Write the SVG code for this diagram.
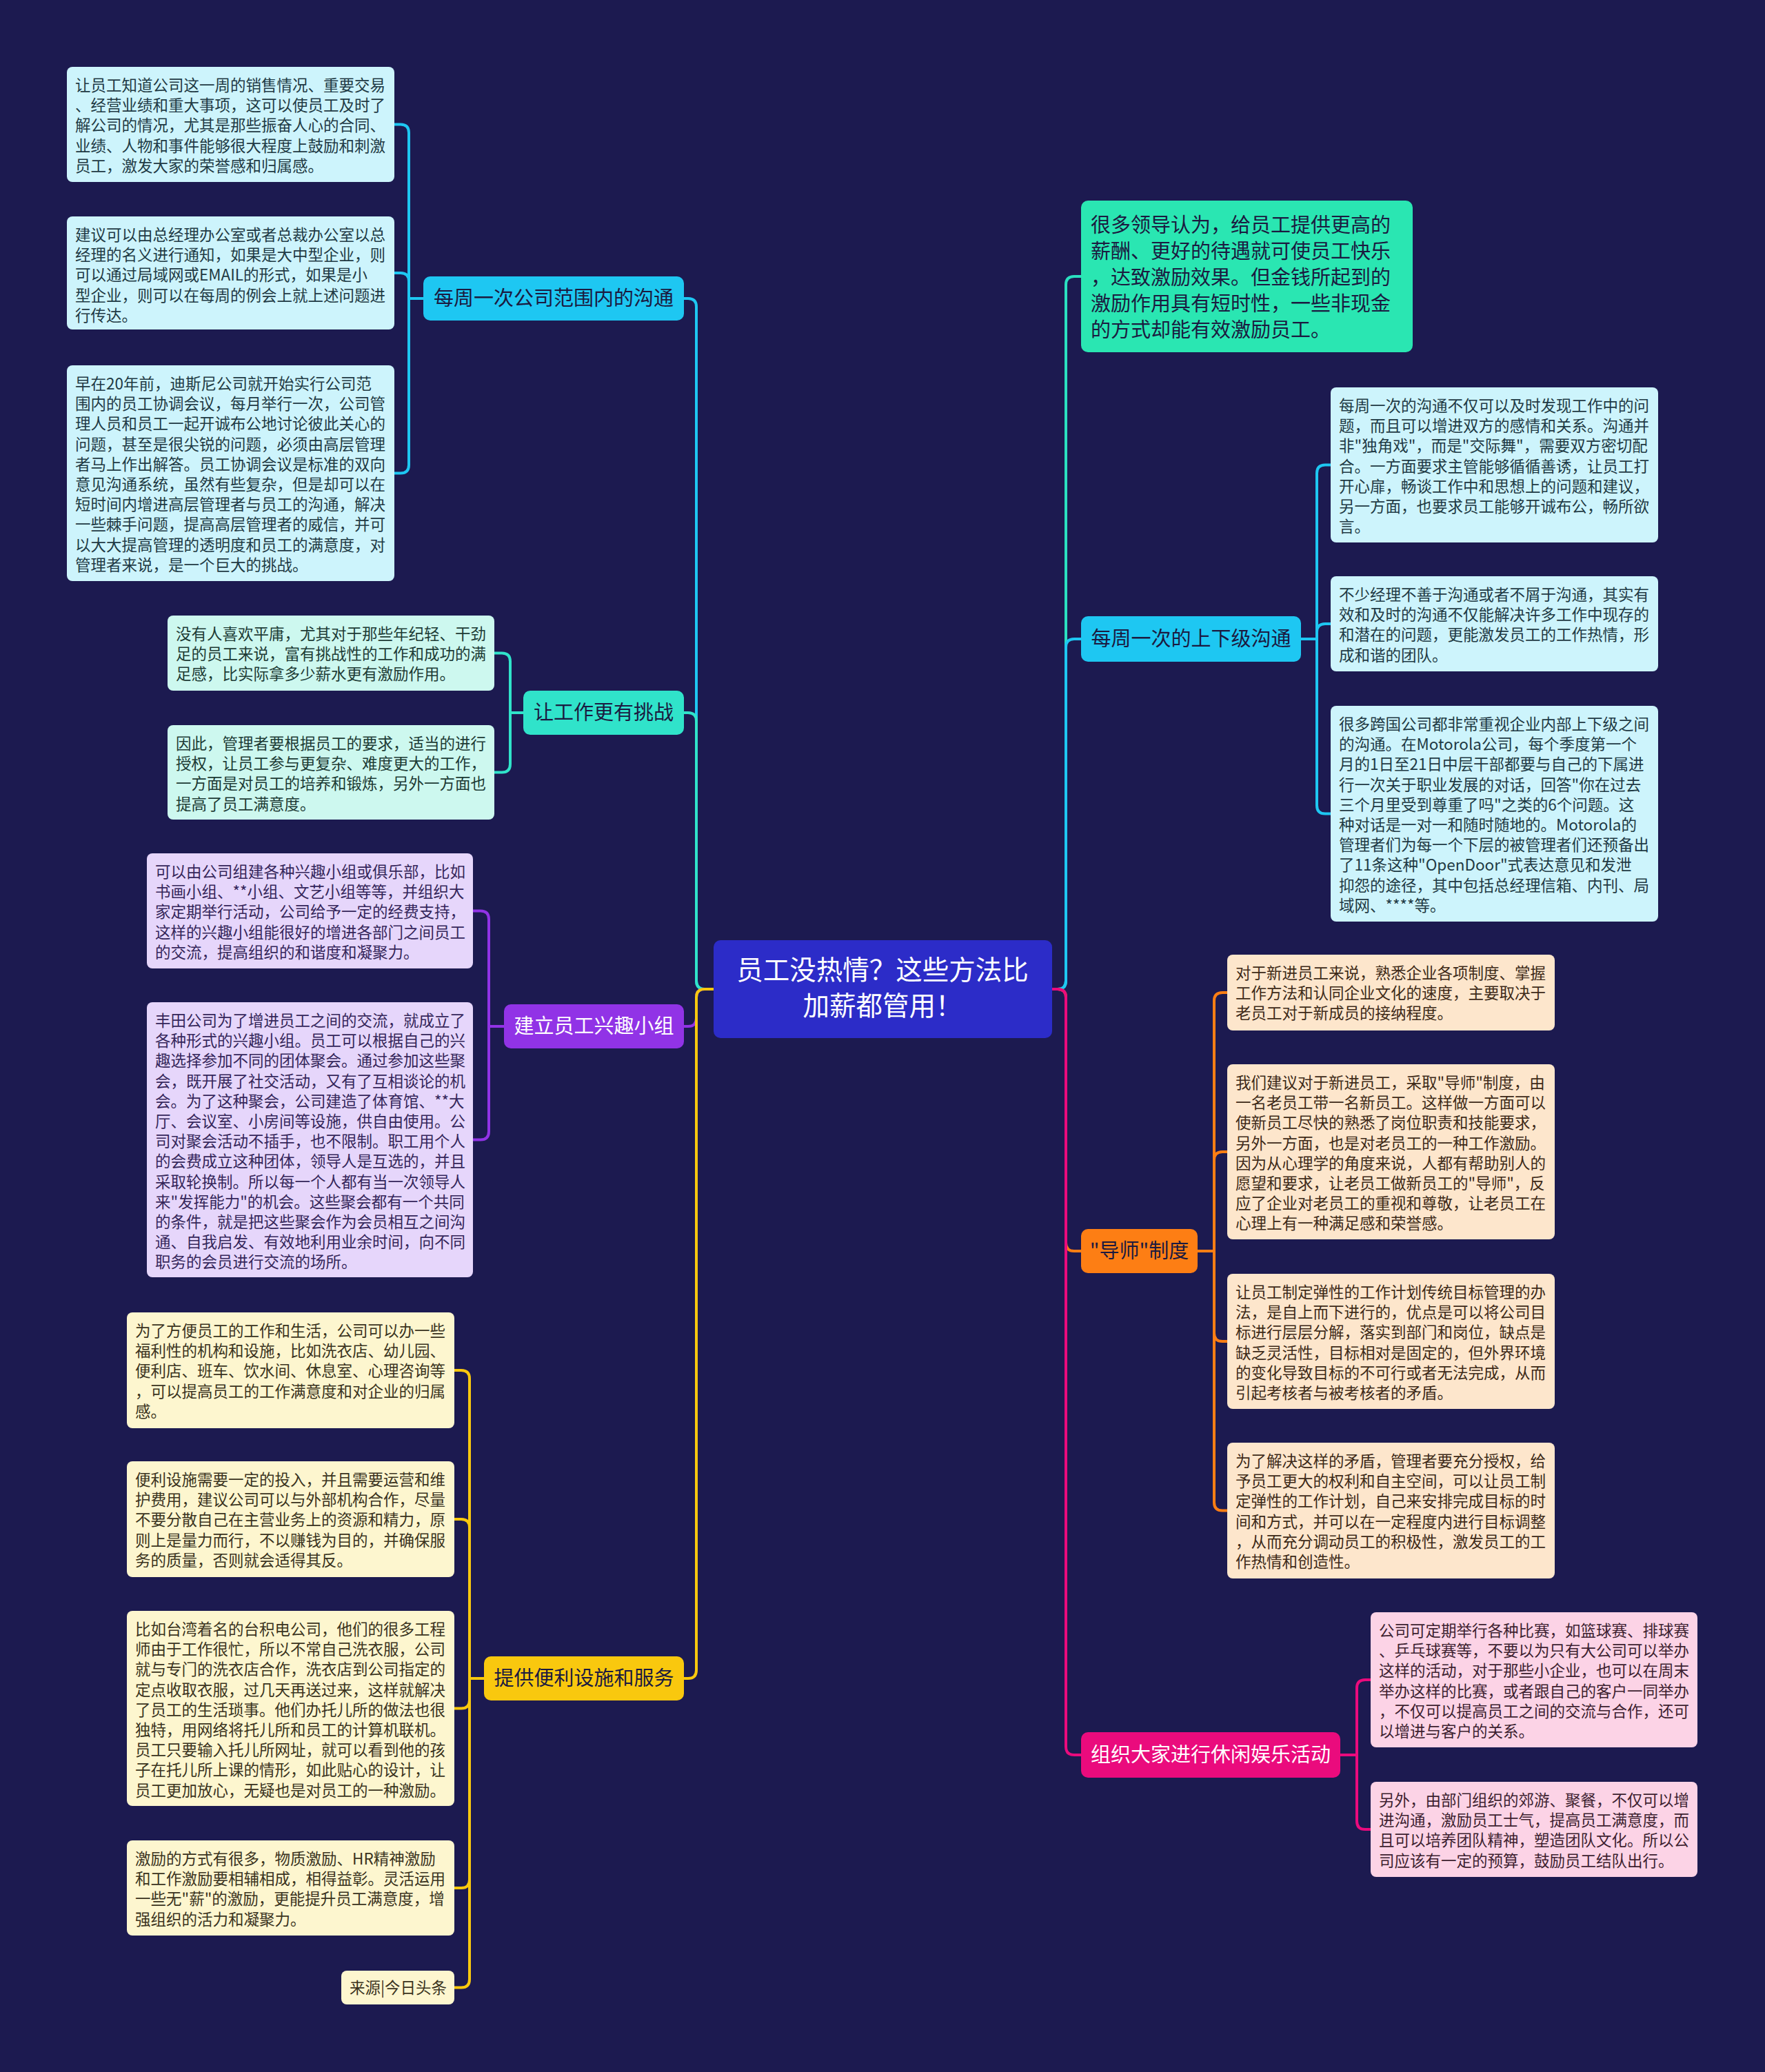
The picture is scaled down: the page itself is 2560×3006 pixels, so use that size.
<svg xmlns="http://www.w3.org/2000/svg" width="2560" height="3006" viewBox="0 0 2560 3006">
<style>
text{font-family:"Noto Sans CJK SC","Noto Sans",sans-serif;}
.lf{font-size:22.5px;}
.br{font-size:29px;text-anchor:middle;}
.cn{fill:none;stroke-width:4;stroke-linecap:round;stroke-linejoin:round;}
</style>
<rect x="0" y="0" width="2560" height="3006" fill="#1c1a50"/>
<g id="connectors">
<!-- main left -->
<path class="cn" stroke="#1ec7f2" d="M1035 1435 H1022 Q1010 1435 1010 1423 V445 Q1010 433 998 433 H992"/>
<path class="cn" stroke="#30e3ca" d="M1035 1435 H1022 Q1010 1435 1010 1423 V1046 Q1010 1034 998 1034 H992"/>
<path class="cn" stroke="#9133e6" d="M1035 1435 H1022 Q1010 1435 1010 1447 V1477 Q1010 1489 998 1489 H992"/>
<path class="cn" stroke="#f9c80e" d="M1035 1435 H1022 Q1010 1435 1010 1447 V2423 Q1010 2435 998 2435 H992"/>
<!-- main right -->
<path class="cn" stroke="#2ae0c0" d="M1526 1435 H1534 Q1546 1435 1546 1423 V413 Q1546 401 1558 401 H1568"/>
<path class="cn" stroke="#1ec7f2" d="M1526 1435 H1534 Q1546 1435 1546 1423 V939 Q1546 927 1558 927 H1568"/>
<path class="cn" stroke="#fd7e14" d="M1526 1435 H1534 Q1546 1435 1546 1447 V1803 Q1546 1815 1558 1815 H1568"/>
<path class="cn" stroke="#ea0b7d" d="M1526 1435 H1534 Q1546 1435 1546 1447 V2534 Q1546 2546 1558 2546 H1568"/>
<!-- branch 1 leaves -->
<path class="cn" stroke="#1ec7f2" d="M614 433 H593 V192.5 Q593 180.5 581 180.5 H572"/>
<path class="cn" stroke="#1ec7f2" d="M614 433 H593 V408 Q593 396 581 396 H572"/>
<path class="cn" stroke="#1ec7f2" d="M614 433 H593 V674.5 Q593 686.5 581 686.5 H572"/>
<!-- branch 2 leaves -->
<path class="cn" stroke="#30e3ca" d="M759 1034 H740 V959.5 Q740 947.5 728 947.5 H717"/>
<path class="cn" stroke="#30e3ca" d="M759 1034 H740 V1108.5 Q740 1120.5 728 1120.5 H717"/>
<!-- branch 3 leaves -->
<path class="cn" stroke="#9133e6" d="M731 1489 H709 V1333.5 Q709 1321.5 697 1321.5 H686"/>
<path class="cn" stroke="#9133e6" d="M731 1489 H709 V1641.5 Q709 1653.5 697 1653.5 H686"/>
<!-- branch 4 leaves -->
<path class="cn" stroke="#f9c80e" d="M702 2435 H681 V2000 Q681 1988 669 1988 H659"/>
<path class="cn" stroke="#f9c80e" d="M702 2435 H681 V2216 Q681 2204 669 2204 H659"/>
<path class="cn" stroke="#f9c80e" d="M702 2435 H681 V2466.5 Q681 2478.5 669 2478.5 H659"/>
<path class="cn" stroke="#f9c80e" d="M702 2435 H681 V2727 Q681 2739 669 2739 H659"/>
<path class="cn" stroke="#f9c80e" d="M702 2435 H681 V2871.5 Q681 2883.5 669 2883.5 H659"/>
<!-- right branch 2 leaves -->
<path class="cn" stroke="#1ec7f2" d="M1887 927 H1910 V686.5 Q1910 674.5 1922 674.5 H1930"/>
<path class="cn" stroke="#1ec7f2" d="M1887 927 H1910 V917 Q1910 905 1922 905 H1930"/>
<path class="cn" stroke="#1ec7f2" d="M1887 927 H1910 V1168.5 Q1910 1180.5 1922 1180.5 H1930"/>
<!-- right branch 3 leaves -->
<path class="cn" stroke="#fd7e14" d="M1737 1815 H1761 V1452 Q1761 1440 1773 1440 H1780"/>
<path class="cn" stroke="#fd7e14" d="M1737 1815 H1761 V1683 Q1761 1671 1773 1671 H1780"/>
<path class="cn" stroke="#fd7e14" d="M1737 1815 H1761 V1934 Q1761 1946 1773 1946 H1780"/>
<path class="cn" stroke="#fd7e14" d="M1737 1815 H1761 V2179.5 Q1761 2191.5 1773 2191.5 H1780"/>
<!-- right branch 4 leaves -->
<path class="cn" stroke="#ea0b7d" d="M1944 2546 H1968 V2449 Q1968 2437 1980 2437 H1988"/>
<path class="cn" stroke="#ea0b7d" d="M1944 2546 H1968 V2642 Q1968 2654 1980 2654 H1988"/>
</g>

<g id="center">
<rect x="1035" y="1364" width="491" height="142" rx="10" fill="#2c2cc8"/>
<text x="1280" y="1421" font-size="38.5" fill="#ffffff" text-anchor="middle">员工没热情？这些方法比</text>
<text x="1280" y="1473" font-size="38.5" fill="#ffffff" text-anchor="middle">加薪都管用！</text>
</g>

<!-- left branches -->
<g id="b1">
<rect x="614" y="401" width="378" height="64" rx="10" fill="#1ec7f2"/>
<text class="br" x="803" y="443" fill="#1b1a40">每周一次公司范围内的沟通</text>
</g>
<g id="b2">
<rect x="759" y="1002" width="233" height="64" rx="10" fill="#30e3ca"/>
<text class="br" x="875.5" y="1044" fill="#1b1a40">让工作更有挑战</text>
</g>
<g id="b3">
<rect x="731" y="1457" width="261" height="64" rx="10" fill="#9133e6"/>
<text class="br" x="861.5" y="1499" fill="#ffffff">建立员工兴趣小组</text>
</g>
<g id="b4">
<rect x="702" y="2403" width="290" height="64" rx="10" fill="#f9c80e"/>
<text class="br" x="847" y="2445" fill="#1b1a40">提供便利设施和服务</text>
</g>

<!-- right branches -->
<g id="r1">
<rect x="1568" y="291" width="481" height="220" rx="10" fill="#2ae6b2"/>
<text x="1582" y="337" font-size="29" fill="#1b1a40">
<tspan x="1582">很多领导认为，给员工提供更高的</tspan>
<tspan x="1582" dy="38">薪酬、更好的待遇就可使员工快乐</tspan>
<tspan x="1582" dy="38">，达致激励效果。但金钱所起到的</tspan>
<tspan x="1582" dy="38">激励作用具有短时性，一些非现金</tspan>
<tspan x="1582" dy="38">的方式却能有效激励员工。</tspan>
</text>
</g>
<g id="r2">
<rect x="1568" y="894" width="319" height="66" rx="10" fill="#1ec7f2"/>
<text class="br" x="1727.5" y="937" fill="#1b1a40">每周一次的上下级沟通</text>
</g>
<g id="r3">
<rect x="1568" y="1783" width="169" height="64" rx="10" fill="#fd7e14"/>
<text class="br" x="1652.5" y="1825" fill="#1b1a40">"导师"制度</text>
</g>
<g id="r4">
<rect x="1568" y="2513" width="376" height="66" rx="10" fill="#ea0b7d"/>
<text class="br" x="1756" y="2556" fill="#ffffff">组织大家进行休闲娱乐活动</text>
</g>

<!-- leaves branch 1 -->
<g id="l1a">
<rect x="97" y="97" width="475" height="167" rx="8" fill="#cdf4fc"/>
<text class="lf" x="109" y="132" fill="#1f3a44">
<tspan x="109">让员工知道公司这一周的销售情况、重要交易</tspan>
<tspan x="109" dy="29.2">、经营业绩和重大事项，这可以使员工及时了</tspan>
<tspan x="109" dy="29.2">解公司的情况，尤其是那些振奋人心的合同、</tspan>
<tspan x="109" dy="29.2">业绩、人物和事件能够很大程度上鼓励和刺激</tspan>
<tspan x="109" dy="29.2">员工，激发大家的荣誉感和归属感。</tspan>
</text>
</g>
<g id="l1b">
<rect x="97" y="314" width="475" height="164" rx="8" fill="#cdf4fc"/>
<text class="lf" x="109" y="349" fill="#1f3a44">
<tspan x="109">建议可以由总经理办公室或者总裁办公室以总</tspan>
<tspan x="109" dy="29.2">经理的名义进行通知，如果是大中型企业，则</tspan>
<tspan x="109" dy="29.2">可以通过局域网或EMAIL的形式，如果是小</tspan>
<tspan x="109" dy="29.2">型企业，则可以在每周的例会上就上述问题进</tspan>
<tspan x="109" dy="29.2">行传达。</tspan>
</text>
</g>
<g id="l1c">
<rect x="97" y="530" width="475" height="313" rx="8" fill="#cdf4fc"/>
<text class="lf" x="109" y="565" fill="#1f3a44">
<tspan x="109">早在20年前，迪斯尼公司就开始实行公司范</tspan>
<tspan x="109" dy="29.2">围内的员工协调会议，每月举行一次，公司管</tspan>
<tspan x="109" dy="29.2">理人员和员工一起开诚布公地讨论彼此关心的</tspan>
<tspan x="109" dy="29.2">问题，甚至是很尖锐的问题，必须由高层管理</tspan>
<tspan x="109" dy="29.2">者马上作出解答。员工协调会议是标准的双向</tspan>
<tspan x="109" dy="29.2">意见沟通系统，虽然有些复杂，但是却可以在</tspan>
<tspan x="109" dy="29.2">短时间内增进高层管理者与员工的沟通，解决</tspan>
<tspan x="109" dy="29.2">一些棘手问题，提高高层管理者的威信，并可</tspan>
<tspan x="109" dy="29.2">以大大提高管理的透明度和员工的满意度，对</tspan>
<tspan x="109" dy="29.2">管理者来说，是一个巨大的挑战。</tspan>
</text>
</g>

<!-- leaves branch 2 -->
<g id="l2a">
<rect x="243" y="893" width="474" height="109" rx="8" fill="#cdf8ef"/>
<text class="lf" x="255" y="928" fill="#1d3b35">
<tspan x="255">没有人喜欢平庸，尤其对于那些年纪轻、干劲</tspan>
<tspan x="255" dy="29.2">足的员工来说，富有挑战性的工作和成功的满</tspan>
<tspan x="255" dy="29.2">足感，比实际拿多少薪水更有激励作用。</tspan>
</text>
</g>
<g id="l2b">
<rect x="243" y="1052" width="474" height="137" rx="8" fill="#cdf8ef"/>
<text class="lf" x="255" y="1087" fill="#1d3b35">
<tspan x="255">因此，管理者要根据员工的要求，适当的进行</tspan>
<tspan x="255" dy="29.2">授权，让员工参与更复杂、难度更大的工作，</tspan>
<tspan x="255" dy="29.2">一方面是对员工的培养和锻炼，另外一方面也</tspan>
<tspan x="255" dy="29.2">提高了员工满意度。</tspan>
</text>
</g>

<!-- leaves branch 3 -->
<g id="l3a">
<rect x="213" y="1238" width="473" height="167" rx="8" fill="#e6d6fb"/>
<text class="lf" x="225" y="1273" fill="#35265a">
<tspan x="225">可以由公司组建各种兴趣小组或俱乐部，比如</tspan>
<tspan x="225" dy="29.2">书画小组、**小组、文艺小组等等，并组织大</tspan>
<tspan x="225" dy="29.2">家定期举行活动，公司给予一定的经费支持，</tspan>
<tspan x="225" dy="29.2">这样的兴趣小组能很好的增进各部门之间员工</tspan>
<tspan x="225" dy="29.2">的交流，提高组织的和谐度和凝聚力。</tspan>
</text>
</g>
<g id="l3b">
<rect x="213" y="1454" width="473" height="399" rx="8" fill="#e6d6fb"/>
<text class="lf" x="225" y="1489" fill="#35265a">
<tspan x="225">丰田公司为了增进员工之间的交流，就成立了</tspan>
<tspan x="225" dy="29.2">各种形式的兴趣小组。员工可以根据自己的兴</tspan>
<tspan x="225" dy="29.2">趣选择参加不同的团体聚会。通过参加这些聚</tspan>
<tspan x="225" dy="29.2">会，既开展了社交活动，又有了互相谈论的机</tspan>
<tspan x="225" dy="29.2">会。为了这种聚会，公司建造了体育馆、**大</tspan>
<tspan x="225" dy="29.2">厅、会议室、小房间等设施，供自由使用。公</tspan>
<tspan x="225" dy="29.2">司对聚会活动不插手，也不限制。职工用个人</tspan>
<tspan x="225" dy="29.2">的会费成立这种团体，领导人是互选的，并且</tspan>
<tspan x="225" dy="29.2">采取轮换制。所以每一个人都有当一次领导人</tspan>
<tspan x="225" dy="29.2">来"发挥能力"的机会。这些聚会都有一个共同</tspan>
<tspan x="225" dy="29.2">的条件，就是把这些聚会作为会员相互之间沟</tspan>
<tspan x="225" dy="29.2">通、自我启发、有效地利用业余时间，向不同</tspan>
<tspan x="225" dy="29.2">职务的会员进行交流的场所。</tspan>
</text>
</g>

<!-- leaves branch 4 -->
<g id="l4a">
<rect x="184" y="1904" width="475" height="168" rx="8" fill="#fdf6cf"/>
<text class="lf" x="196" y="1939" fill="#3a3320">
<tspan x="196">为了方便员工的工作和生活，公司可以办一些</tspan>
<tspan x="196" dy="29.2">福利性的机构和设施，比如洗衣店、幼儿园、</tspan>
<tspan x="196" dy="29.2">便利店、班车、饮水间、休息室、心理咨询等</tspan>
<tspan x="196" dy="29.2">，可以提高员工的工作满意度和对企业的归属</tspan>
<tspan x="196" dy="29.2">感。</tspan>
</text>
</g>
<g id="l4b">
<rect x="184" y="2120" width="475" height="168" rx="8" fill="#fdf6cf"/>
<text class="lf" x="196" y="2155" fill="#3a3320">
<tspan x="196">便利设施需要一定的投入，并且需要运营和维</tspan>
<tspan x="196" dy="29.2">护费用，建议公司可以与外部机构合作，尽量</tspan>
<tspan x="196" dy="29.2">不要分散自己在主营业务上的资源和精力，原</tspan>
<tspan x="196" dy="29.2">则上是量力而行，不以赚钱为目的，并确保服</tspan>
<tspan x="196" dy="29.2">务的质量，否则就会适得其反。</tspan>
</text>
</g>
<g id="l4c">
<rect x="184" y="2337" width="475" height="283" rx="8" fill="#fdf6cf"/>
<text class="lf" x="196" y="2372" fill="#3a3320">
<tspan x="196">比如台湾着名的台积电公司，他们的很多工程</tspan>
<tspan x="196" dy="29.2">师由于工作很忙，所以不常自己洗衣服，公司</tspan>
<tspan x="196" dy="29.2">就与专门的洗衣店合作，洗衣店到公司指定的</tspan>
<tspan x="196" dy="29.2">定点收取衣服，过几天再送过来，这样就解决</tspan>
<tspan x="196" dy="29.2">了员工的生活琐事。他们办托儿所的做法也很</tspan>
<tspan x="196" dy="29.2">独特，用网络将托儿所和员工的计算机联机。</tspan>
<tspan x="196" dy="29.2">员工只要输入托儿所网址，就可以看到他的孩</tspan>
<tspan x="196" dy="29.2">子在托儿所上课的情形，如此贴心的设计，让</tspan>
<tspan x="196" dy="29.2">员工更加放心，无疑也是对员工的一种激励。</tspan>
</text>
</g>
<g id="l4d">
<rect x="184" y="2670" width="475" height="138" rx="8" fill="#fdf6cf"/>
<text class="lf" x="196" y="2705" fill="#3a3320">
<tspan x="196">激励的方式有很多，物质激励、HR精神激励</tspan>
<tspan x="196" dy="29.2">和工作激励要相辅相成，相得益彰。灵活运用</tspan>
<tspan x="196" dy="29.2">一些无"薪"的激励，更能提升员工满意度，增</tspan>
<tspan x="196" dy="29.2">强组织的活力和凝聚力。</tspan>
</text>
</g>
<g id="l4e">
<rect x="495" y="2859" width="164" height="49" rx="8" fill="#fdf6cf"/>
<text class="lf" x="507" y="2892" fill="#3a3320">来源|今日头条</text>
</g>

<!-- right leaves branch 2 -->
<g id="r2a">
<rect x="1930" y="562" width="475" height="225" rx="8" fill="#cdf4fc"/>
<text class="lf" x="1942" y="597" fill="#1f3a44">
<tspan x="1942">每周一次的沟通不仅可以及时发现工作中的问</tspan>
<tspan x="1942" dy="29.2">题，而且可以增进双方的感情和关系。沟通并</tspan>
<tspan x="1942" dy="29.2">非"独角戏"，而是"交际舞"，需要双方密切配</tspan>
<tspan x="1942" dy="29.2">合。一方面要求主管能够循循善诱，让员工打</tspan>
<tspan x="1942" dy="29.2">开心扉，畅谈工作中和思想上的问题和建议，</tspan>
<tspan x="1942" dy="29.2">另一方面，也要求员工能够开诚布公，畅所欲</tspan>
<tspan x="1942" dy="29.2">言。</tspan>
</text>
</g>
<g id="r2b">
<rect x="1930" y="836" width="475" height="138" rx="8" fill="#cdf4fc"/>
<text class="lf" x="1942" y="871" fill="#1f3a44">
<tspan x="1942">不少经理不善于沟通或者不屑于沟通，其实有</tspan>
<tspan x="1942" dy="29.2">效和及时的沟通不仅能解决许多工作中现存的</tspan>
<tspan x="1942" dy="29.2">和潜在的问题，更能激发员工的工作热情，形</tspan>
<tspan x="1942" dy="29.2">成和谐的团队。</tspan>
</text>
</g>
<g id="r2c">
<rect x="1930" y="1024" width="475" height="313" rx="8" fill="#cdf4fc"/>
<text class="lf" x="1942" y="1059" fill="#1f3a44">
<tspan x="1942">很多跨国公司都非常重视企业内部上下级之间</tspan>
<tspan x="1942" dy="29.2">的沟通。在Motorola公司，每个季度第一个</tspan>
<tspan x="1942" dy="29.2">月的1日至21日中层干部都要与自己的下属进</tspan>
<tspan x="1942" dy="29.2">行一次关于职业发展的对话，回答"你在过去</tspan>
<tspan x="1942" dy="29.2">三个月里受到尊重了吗"之类的6个问题。这</tspan>
<tspan x="1942" dy="29.2">种对话是一对一和随时随地的。Motorola的</tspan>
<tspan x="1942" dy="29.2">管理者们为每一个下层的被管理者们还预备出</tspan>
<tspan x="1942" dy="29.2">了11条这种"OpenDoor"式表达意见和发泄</tspan>
<tspan x="1942" dy="29.2">抑怨的途径，其中包括总经理信箱、内刊、局</tspan>
<tspan x="1942" dy="29.2">域网、****等。</tspan>
</text>
</g>

<!-- right leaves branch 3 -->
<g id="r3a">
<rect x="1780" y="1385" width="475" height="110" rx="8" fill="#fde6cc"/>
<text class="lf" x="1792" y="1420" fill="#3d2a18">
<tspan x="1792">对于新进员工来说，熟悉企业各项制度、掌握</tspan>
<tspan x="1792" dy="29.2">工作方法和认同企业文化的速度，主要取决于</tspan>
<tspan x="1792" dy="29.2">老员工对于新成员的接纳程度。</tspan>
</text>
</g>
<g id="r3b">
<rect x="1780" y="1544" width="475" height="254" rx="8" fill="#fde6cc"/>
<text class="lf" x="1792" y="1579" fill="#3d2a18">
<tspan x="1792">我们建议对于新进员工，采取"导师"制度，由</tspan>
<tspan x="1792" dy="29.2">一名老员工带一名新员工。这样做一方面可以</tspan>
<tspan x="1792" dy="29.2">使新员工尽快的熟悉了岗位职责和技能要求，</tspan>
<tspan x="1792" dy="29.2">另外一方面，也是对老员工的一种工作激励。</tspan>
<tspan x="1792" dy="29.2">因为从心理学的角度来说，人都有帮助别人的</tspan>
<tspan x="1792" dy="29.2">愿望和要求，让老员工做新员工的"导师"，反</tspan>
<tspan x="1792" dy="29.2">应了企业对老员工的重视和尊敬，让老员工在</tspan>
<tspan x="1792" dy="29.2">心理上有一种满足感和荣誉感。</tspan>
</text>
</g>
<g id="r3c">
<rect x="1780" y="1848" width="475" height="196" rx="8" fill="#fde6cc"/>
<text class="lf" x="1792" y="1883" fill="#3d2a18">
<tspan x="1792">让员工制定弹性的工作计划传统目标管理的办</tspan>
<tspan x="1792" dy="29.2">法，是自上而下进行的，优点是可以将公司目</tspan>
<tspan x="1792" dy="29.2">标进行层层分解，落实到部门和岗位，缺点是</tspan>
<tspan x="1792" dy="29.2">缺乏灵活性，目标相对是固定的，但外界环境</tspan>
<tspan x="1792" dy="29.2">的变化导致目标的不可行或者无法完成，从而</tspan>
<tspan x="1792" dy="29.2">引起考核者与被考核者的矛盾。</tspan>
</text>
</g>
<g id="r3d">
<rect x="1780" y="2093" width="475" height="197" rx="8" fill="#fde6cc"/>
<text class="lf" x="1792" y="2128" fill="#3d2a18">
<tspan x="1792">为了解决这样的矛盾，管理者要充分授权，给</tspan>
<tspan x="1792" dy="29.2">予员工更大的权利和自主空间，可以让员工制</tspan>
<tspan x="1792" dy="29.2">定弹性的工作计划，自己来安排完成目标的时</tspan>
<tspan x="1792" dy="29.2">间和方式，并可以在一定程度内进行目标调整</tspan>
<tspan x="1792" dy="29.2">，从而充分调动员工的积极性，激发员工的工</tspan>
<tspan x="1792" dy="29.2">作热情和创造性。</tspan>
</text>
</g>

<!-- right leaves branch 4 -->
<g id="r4a">
<rect x="1988" y="2339" width="474" height="196" rx="8" fill="#fcd3e6"/>
<text class="lf" x="2000" y="2374" fill="#3d1f30">
<tspan x="2000">公司可定期举行各种比赛，如篮球赛、排球赛</tspan>
<tspan x="2000" dy="29.2">、乒乓球赛等，不要以为只有大公司可以举办</tspan>
<tspan x="2000" dy="29.2">这样的活动，对于那些小企业，也可以在周末</tspan>
<tspan x="2000" dy="29.2">举办这样的比赛，或者跟自己的客户一同举办</tspan>
<tspan x="2000" dy="29.2">，不仅可以提高员工之间的交流与合作，还可</tspan>
<tspan x="2000" dy="29.2">以增进与客户的关系。</tspan>
</text>
</g>
<g id="r4b">
<rect x="1988" y="2585" width="474" height="138" rx="8" fill="#fcd3e6"/>
<text class="lf" x="2000" y="2620" fill="#3d1f30">
<tspan x="2000">另外，由部门组织的郊游、聚餐，不仅可以增</tspan>
<tspan x="2000" dy="29.2">进沟通，激励员工士气，提高员工满意度，而</tspan>
<tspan x="2000" dy="29.2">且可以培养团队精神，塑造团队文化。所以公</tspan>
<tspan x="2000" dy="29.2">司应该有一定的预算，鼓励员工结队出行。</tspan>
</text>
</g>
</svg>
